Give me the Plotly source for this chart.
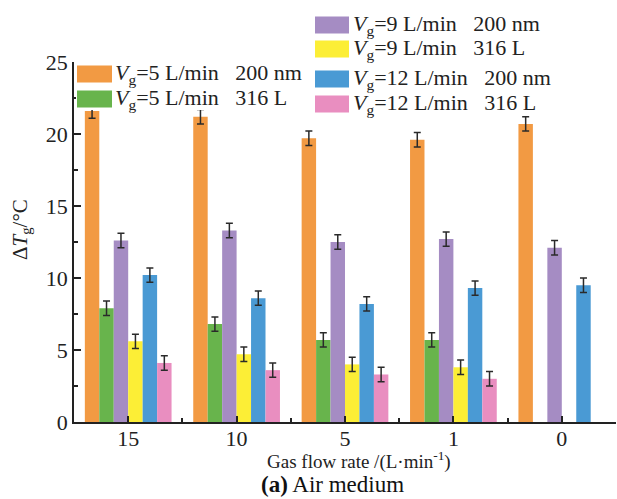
import plotly.graph_objects as go

categories = ["15", "10", "5", "1", "0"]

series_names = [
    "<i>V</i><sub>g</sub>=5 L/min\u00a0\u00a0\u00a0200 nm",
    "<i>V</i><sub>g</sub>=5 L/min\u00a0\u00a0\u00a0316 L",
    "<i>V</i><sub>g</sub>=9 L/min\u00a0\u00a0\u00a0200 nm",
    "<i>V</i><sub>g</sub>=9 L/min\u00a0\u00a0\u00a0316 L",
    "<i>V</i><sub>g</sub>=12 L/min\u00a0\u00a0\u00a0200 nm",
    "<i>V</i><sub>g</sub>=12 L/min\u00a0\u00a0\u00a0316 L",
]

v5_200 = [21.6, 21.2, 19.7, 19.6, 20.7]
v5_316 = [7.9, 6.8, 5.7, 5.7, None]
v9_200 = [12.6, 13.3, 12.5, 12.7, 12.1]
v9_316 = [5.6, 4.7, 4.0, 3.8, None]
v12_200 = [10.2, 8.6, 8.2, 9.3, 9.5]
v12_316 = [4.1, 3.6, 3.3, 3.0, None]

err5_200 = [0.5, 0.5, 0.5, 0.5, 0.5]
err5_316 = [0.5, 0.5, 0.5, 0.5, 0]
err9_200 = [0.5, 0.5, 0.5, 0.5, 0.5]
err9_316 = [0.5, 0.5, 0.5, 0.5, 0]
err12_200 = [0.5, 0.5, 0.5, 0.5, 0.5]
err12_316 = [0.5, 0.5, 0.5, 0.5, 0]

colors = ["#F29A43", "#68B44C", "#A58CC3", "#FCEE36", "#4A9AD4", "#E98EC0"]

values = [v5_200, v5_316, v9_200, v9_316, v12_200, v12_316]
errors = [err5_200, err5_316, err9_200, err9_316, err12_200, err12_316]

W, H = 617, 499
L, R, T, B = 74, 1, 62, 77
PW, PH = W - L - R, H - T - B

FONT = "Liberation Serif, Times New Roman, serif"
TXT = "#222222"

xpos = list(range(len(categories)))

fig = go.Figure()
for name, vals, errs, col in zip(series_names, values, errors, colors):
    fig.add_trace(go.Bar(
        x=xpos, y=vals, name=name,
        marker=dict(color=col, line=dict(width=0)),
        error_y=dict(type="data", array=errs, visible=True,
                     color="#2a2a2a", thickness=1.5, width=3.5),
        showlegend=False,
    ))

def px(xp):
    return (xp - L) / PW

def py(yp):
    return (H - B - yp) / PH

shapes = []
annotations = []

# left legend (inside plot, opaque background)
shapes.append(dict(type="rect", xref="paper", yref="paper",
                   x0=px(76), x1=px(313), y0=py(110), y1=py(62),
                   fillcolor="white", line=dict(width=0), layer="above"))
left_rows = [74, 99]
right_rows = [25, 49, 79, 104]
legend_items = [(0, 77, 112, 113, left_rows[0]), (1, 77, 112, 113, left_rows[1]),
                (2, 315, 349, 351, right_rows[0]), (3, 315, 349, 351, right_rows[1]),
                (4, 315, 349, 351, right_rows[2]), (5, 315, 349, 351, right_rows[3])]
for idx, sx0, sx1, tx, cy in legend_items:
    shapes.append(dict(type="rect", xref="paper", yref="paper",
                       x0=px(sx0), x1=px(sx1), y0=py(cy + 8.5), y1=py(cy - 8.5),
                       fillcolor=colors[idx], line=dict(width=0), layer="above"))
    annotations.append(dict(xref="paper", yref="paper", x=px(tx), y=py(cy),
                            xanchor="left", yanchor="middle", showarrow=False,
                            text=series_names[idx],
                            font=dict(family=FONT, size=22, color=TXT)))

# axis titles and caption
annotations.append(dict(xref="paper", yref="paper", x=px(21), y=py(230),
                        xanchor="center", yanchor="middle", showarrow=False, textangle=-90,
                        text="Δ<i>T</i><sub>g</sub>/°C",
                        font=dict(family=FONT, size=21, color=TXT)))
annotations.append(dict(xref="paper", yref="paper", x=px(359), y=py(460),
                        xanchor="center", yanchor="middle", showarrow=False,
                        text="Gas flow rate /(L·min<sup>-1</sup>)",
                        font=dict(family=FONT, size=19, color=TXT)))
annotations.append(dict(xref="paper", yref="paper", x=px(332), y=py(484),
                        xanchor="center", yanchor="middle", showarrow=False,
                        text="<b>(a)</b> Air medium",
                        font=dict(family=FONT, size=23, color="#111111")))

fig.update_layout(
    width=W, height=H,
    margin=dict(l=L, r=R, t=T, b=B, pad=0),
    paper_bgcolor="white", plot_bgcolor="white",
    barmode="group", bargap=0.2, bargroupgap=0,
    showlegend=False,
    shapes=shapes, annotations=annotations,
    font=dict(family=FONT, size=22, color=TXT),
)

fig.update_xaxes(
    range=[-0.5, 4.5], tickmode="array", tickvals=xpos, ticktext=categories,
    showgrid=False, zeroline=False, showline=True, linecolor="#222", linewidth=1.5,
    ticks="inside", ticklen=6, tickwidth=1.5, tickcolor="#222",
    tickfont=dict(family=FONT, size=22, color=TXT),
    minor=dict(tick0=0.5, dtick=1, ticks="inside", ticklen=4, tickwidth=1.5, tickcolor="#222", showgrid=False),
    ticklabelstandoff=-4,
)
fig.update_yaxes(
    range=[0, 25], dtick=5, tick0=0,
    showgrid=False, zeroline=False, showline=True, linecolor="#222", linewidth=1.5,
    ticks="inside", ticklen=7, tickwidth=1.5, tickcolor="#222",
    tickfont=dict(family=FONT, size=22, color=TXT),
    minor=dict(dtick=2.5, ticks="inside", ticklen=4, tickwidth=1.5, tickcolor="#222", showgrid=False),
    ticklabelstandoff=0,
)

fig.write_html("out.html", config={"displayModeBar": False},
               post_script="document.body.style.margin='0';document.body.style.overflow='hidden';")
